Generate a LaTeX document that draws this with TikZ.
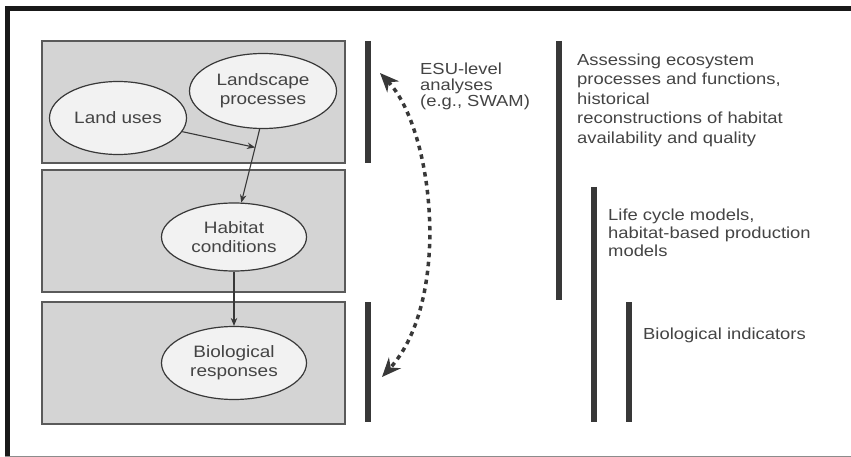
\documentclass[tikz,border=0pt]{standalone}
\usepackage{fontspec}
\setmainfont{Liberation Sans}[FakeStretch=1.15]
\usetikzlibrary{arrows.meta,shapes.geometric,calc}
\definecolor{txt}{HTML}{444444}
\definecolor{boxfill}{HTML}{D4D4D4}
\definecolor{boxline}{HTML}{5A5A5A}
\definecolor{ellfill}{HTML}{F2F2F2}
\definecolor{barcol}{HTML}{383838}
\tikzset{
  panel/.style={draw=boxline, fill=boxfill, line width=1.4pt, inner sep=0pt},
  oval/.style={ellipse, draw=barcol, fill=ellfill, line width=1.2pt, inner sep=0pt,
    align=center, text=txt, font=\fontsize{16.5}{19}\selectfont},
  lbl/.style={anchor=north west, inner sep=0pt, align=left, text=txt},
  vbar/.style={draw=barcol, line width=6.5pt},
  flow/.style={draw=barcol, line width=1.1pt, -{Stealth[length=8pt,width=6.5pt]}},
  dashflow/.style={draw=barcol, line width=3.5pt, dash pattern=on 4.5pt off 4.5pt,
    {Stealth[length=19pt,width=16pt]}-{Stealth[length=19pt,width=16pt]}}
}
\begin{document}
\begin{tikzpicture}[x=1pt,y=-1pt]
\useasboundingbox (0,0) rectangle (851,457);
\fill[white] (0,0) rectangle (851,457);
% frame
\fill[black!90] (5,6) rectangle (851,11);
\fill[black!90] (5,6) rectangle (10,457);
\fill[black!45] (5,455.5) rectangle (851,457);
% panels
\node[panel, minimum width=303pt, minimum height=122pt] (b1) at (193.5,102) {};
\node[panel, minimum width=303pt, minimum height=122pt] (b2) at (193.5,231) {};
\node[panel, minimum width=303pt, minimum height=122pt] (b3) at (193.5,363) {};
% ellipses
\node[oval, minimum width=137pt, minimum height=73pt] (lu) at (118,118) {Land uses};
\node[oval, minimum width=147pt, minimum height=75pt] (lp) at (263,91) {Landscape\\processes};
\node[oval, minimum width=145pt, minimum height=68pt] (hab) at (234,237) {Habitat\\conditions};
\node[oval, minimum width=145pt, minimum height=73pt] (bio) at (234,363) {Biological\\responses};
% connectors
\coordinate (j) at ($(lp.-95)!0.25!(hab.78)$);
\draw[flow] (lu.-12) -- (j);
\draw[flow] (lp.-95) -- (hab.78);
\draw[flow] (hab.south) -- (bio.north);
% bars
\draw[vbar] (368,41) -- (368,163);
\draw[vbar] (368,302) -- (368,422);
\draw[vbar] (559,41) -- (559,300);
\draw[vbar] (594,187) -- (594,422);
\draw[vbar] (629,302) -- (629,422);
% dashed double arrow
\coordinate (dtop) at (380,73);
\coordinate (dbot) at (382,377);
\draw[dashflow] (dtop) .. controls (434,130) and (452,300) .. (dbot);
% labels
\node[lbl, font=\fontsize{16}{16}\selectfont] (esu) at (420,62.5) {ESU-level\\analyses\\(e.g., SWAM)};
\node[lbl, font=\fontsize{16}{19.5}\selectfont] (eco) at (577,53.5) {Assessing ecosystem\\processes and functions,\\historical\\reconstructions of habitat\\availability and quality};
\node[lbl, font=\fontsize{16}{18}\selectfont] (lcm) at (608,208.5) {Life cycle models,\\habitat-based production\\models};
\node[lbl, font=\fontsize{16}{18}\selectfont] (bi) at (643,327.5) {Biological indicators};
\end{tikzpicture}
\end{document}
